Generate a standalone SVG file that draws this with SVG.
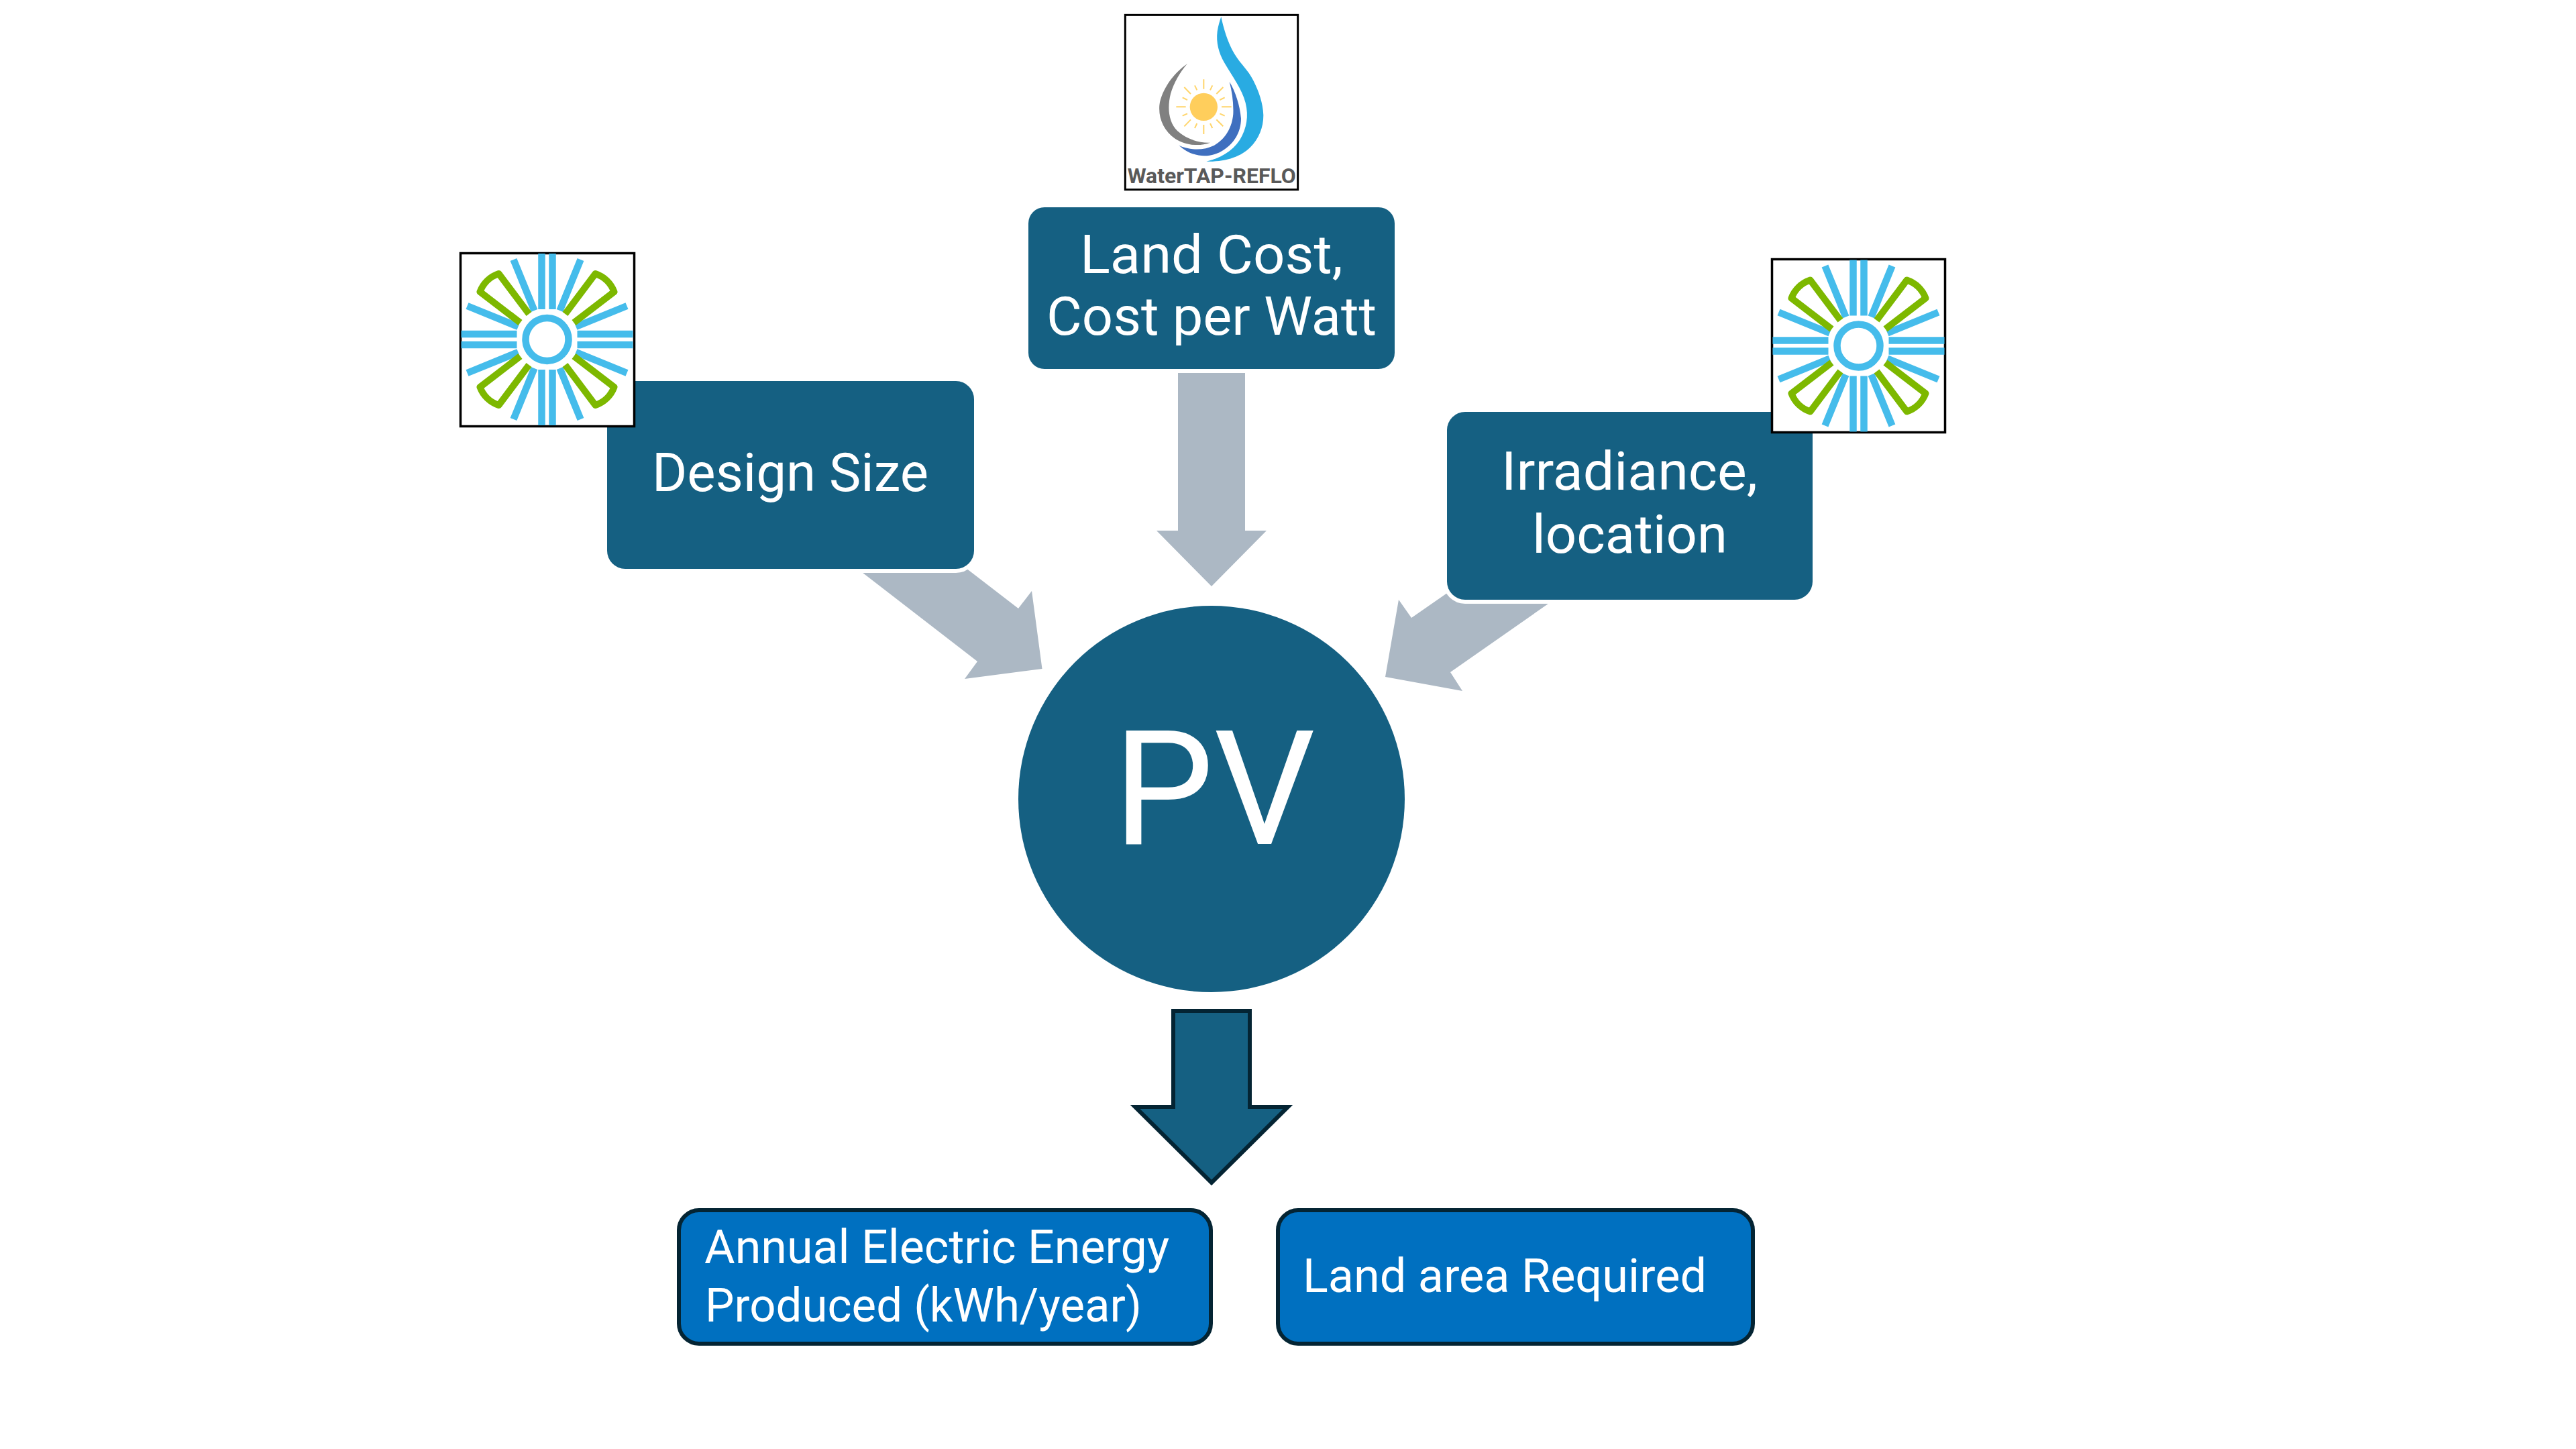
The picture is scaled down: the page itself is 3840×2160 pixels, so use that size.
<svg xmlns="http://www.w3.org/2000/svg" xmlns:xlink="http://www.w3.org/1999/xlink" width="3840" height="2160" viewBox="0 0 3840 2160">
<style>
text{font-family:"Roboto","Noto Sans",sans-serif;fill:#fff}
.box{fill:#156082;stroke:#fff;stroke-width:12;paint-order:stroke}
.out{fill:#0070c0;stroke:#042433;stroke-width:6}
.g{fill:#acb8c4}
.frame{fill:#fff;stroke:#000;stroke-width:3.5}
.m{font-size:80px}
.s{font-size:70px}
.bar{stroke:#45bceb;stroke-width:10.5;fill:none}
.pet{stroke:#7db800;stroke-width:10;fill:none;stroke-linejoin:round}
.ray{stroke:#ffd56b;stroke-width:6;fill:none}
</style>
<defs>
<g id="wheel">
<path class="bar" d="M-8,-128V-45M8,-128V-45M-8,128V45M8,128V45M-128,-8H-45M-128,8H-45M128,-8H45M128,8H45"/>
<path class="bar" d="M50,-119L19,-43M-50,-119L-19,-43M50,119L19,43M-50,119L-19,43M119,-50L43,-19M-119,-50L-43,-19M119,50L43,19M-119,50L-43,19"/>
<circle r="32" fill="none" stroke="#45bceb" stroke-width="10.5"/>
<path id="petal" class="pet" d="M27,-38L72,-98A45,45 0 0 1 100,-71L40,-25"/>
<use xlink:href="#petal" transform="scale(-1,1)"/>
<use xlink:href="#petal" transform="scale(1,-1)"/>
<use xlink:href="#petal" transform="scale(-1,-1)"/>
</g>
</defs>
<rect width="3840" height="2160" fill="#fff"/>
<g id="connectors">
<polygon class="g" points="1756,540 1856,540 1856,791 1888,791 1806,874 1724,791 1756,791"/>
<polygon class="g" points="1268,840 1431,840 1518,907 1538,881 1553.5,997 1438,1012 1457,986"/>
<polygon class="g" points="2328,886 2176,871 2104,921 2085,894 2065,1009 2180,1030 2162,1002"/>
<polygon fill="#156082" stroke="#042433" stroke-width="6" points="1749,1507 1863,1507 1863,1650 1920,1650 1806,1763 1692,1650 1749,1650"/>
</g>
<g id="node-design-size">
<rect class="box" x="905" y="568" width="547" height="280" rx="27"/>
<text class="m" x="972" y="732" textLength="412" lengthAdjust="spacingAndGlyphs">Design Size</text>
</g>
<g id="logo-design-size">
<rect class="frame" x="686.5" y="377.5" width="259" height="258"/>
<use xlink:href="#wheel" transform="translate(815.5,506)"/>
</g>
<g id="node-land-cost">
<rect class="box" x="1533" y="309" width="546" height="241" rx="24"/>
<text class="m" x="1610" y="407" textLength="392" lengthAdjust="spacingAndGlyphs">Land Cost,</text>
<text class="m" x="1560" y="499" textLength="492" lengthAdjust="spacingAndGlyphs">Cost per Watt</text>
</g>
<g id="logo-watertap" transform="translate(1660,0) scale(0.33333)">
<rect x="52" y="67" width="772" height="781" fill="#fff" stroke="#000" stroke-width="9"/>
<path fill="#29abe2" d="M481,75C490,120 510,190 540,240C570,290 600,310 625,360C650,410 668,460 670,515C670,570 650,620 610,660C570,700 500,725 415,722C470,710 530,680 565,625C595,575 605,520 590,460C575,400 530,340 495,280C470,235 458,190 464,140C468,115 474,95 481,75Z"/>
<path fill="#3f6fbf" d="M518,365C545,410 565,470 570,530C570,590 540,640 490,672C440,705 360,712 292,650C340,672 400,675 450,650C500,622 530,570 535,510C537,460 530,410 518,365Z"/>
<path fill="#808080" d="M330,285C270,325 215,400 205,470C200,530 225,585 275,620C325,652 385,655 432,638C385,640 330,625 285,585C245,545 240,480 255,420C270,370 295,325 330,285Z"/>
<circle cx="403" cy="478" r="62" fill="#ffce5c"/>
<path class="ray" d="M403,355V398M483,478H527M403,558V600M280,478H323M460,420L490,390M345,420L316,390M345,535L316,565M460,535L490,565M432,403L442,382M373,403L363,382M475,447L497,436M330,447L308,436M475,508L497,518M330,508L308,518M432,552L442,573M373,552L363,573"/>
<text x="62" y="820" font-size="94" font-weight="700" textLength="753" lengthAdjust="spacingAndGlyphs" style="fill:#595959">WaterTAP-REFLO</text>
</g>
<g id="node-irradiance">
<rect class="box" x="2157" y="614" width="545" height="280" rx="27"/>
<text class="m" x="2238" y="730" textLength="382" lengthAdjust="spacingAndGlyphs">Irradiance,</text>
<text class="m" x="2284" y="824" textLength="291" lengthAdjust="spacingAndGlyphs">location</text>
</g>
<g id="logo-irradiance">
<rect class="frame" x="2641.5" y="386.5" width="258" height="258"/>
<use xlink:href="#wheel" transform="translate(2770.5,515.5)"/>
</g>
<g id="node-pv">
<circle cx="1806" cy="1191" r="288" fill="#156082"/>
<text x="1810" y="1258" font-size="238" text-anchor="middle">PV</text>
</g>
<g id="node-annual-energy">
<rect class="out" x="1012" y="1804" width="793" height="199" rx="30"/>
<text class="s" x="1050" y="1883" textLength="693" lengthAdjust="spacingAndGlyphs">Annual Electric Energy</text>
<text class="s" x="1051" y="1970" textLength="651" lengthAdjust="spacingAndGlyphs">Produced (kWh/year)</text>
</g>
<g id="node-land-area">
<rect class="out" x="1905" y="1804" width="708" height="199" rx="30"/>
<text class="s" x="1942" y="1926" textLength="602" lengthAdjust="spacingAndGlyphs">Land area Required</text>
</g>
</svg>
